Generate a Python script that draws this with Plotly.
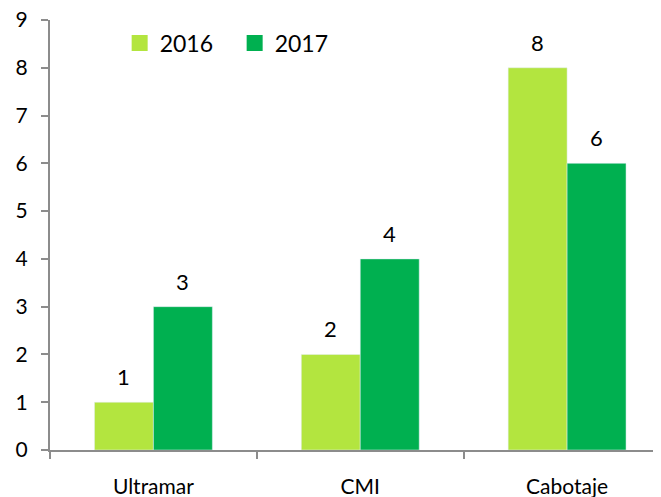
import plotly.graph_objects as go

categories = ["Ultramar", "CMI", "Cabotaje"]
values_2016 = [1, 2, 8]
values_2017 = [3, 4, 6]
series_names = ["2016", "2017"]
colors = ["#B3E53F", "#00B050"]
y_ticks = list(range(0, 10))

FONT = "Lato"

fig = go.Figure()
for name, vals, col in zip(series_names, [values_2016, values_2017], colors):
    fig.add_trace(go.Bar(
        x=categories, y=vals, name=name, marker_color=col,
        showlegend=False,
    ))
    # legend entry with larger square swatch
    fig.add_trace(go.Scatter(
        x=[None], y=[None], mode="markers", name=name,
        marker=dict(symbol="square", size=16, color=col),
    ))

# value labels above bars
shifts = [-29.5, 29.5]
for vals, xs in zip([values_2016, values_2017], shifts):
    for c, v in zip(categories, vals):
        fig.add_annotation(
            x=c, y=v, text=str(v), showarrow=False,
            xshift=xs, yshift=10, yanchor="bottom",
            font=dict(family=FONT, size=22, color="black"),
        )

fig.update_layout(
    width=661, height=497,
    margin=dict(l=42, r=8, t=12, b=55, autoexpand=False),
    paper_bgcolor="white", plot_bgcolor="white",
    barmode="group", bargap=0.43, bargroupgap=0,
    font=dict(family=FONT, size=21, color="black"),
    legend=dict(
        orientation="h", x=0.114, y=0.9465, xanchor="left", yanchor="middle",
        font=dict(family=FONT, size=23, color="black"),
        entrywidth=70, entrywidthmode="pixels", bgcolor="rgba(0,0,0,0)",
    ),
)
fig.update_xaxes(
    range=[-0.5, 2.454], showgrid=False, automargin=False,
    showline=True, linecolor="#8C8C8C", linewidth=2,
    ticks="outside", tickson="boundaries", ticklen=7, tickcolor="#8C8C8C", tickwidth=2,
    ticklabelstandoff=17, ticklabeloverflow="allow",
    tickfont=dict(family=FONT, size=21, color="black"),
)
fig.update_yaxes(
    range=[0, 9], tickvals=y_ticks, showgrid=False, zeroline=False, automargin=False,
    showline=True, linecolor="#8C8C8C", linewidth=2,
    ticks="outside", ticklen=7, tickcolor="#8C8C8C", tickwidth=2,
    ticklabelstandoff=9, ticklabeloverflow="allow",
    tickfont=dict(family=FONT, size=21, color="black"),
)

fig.write_html("out.html")
